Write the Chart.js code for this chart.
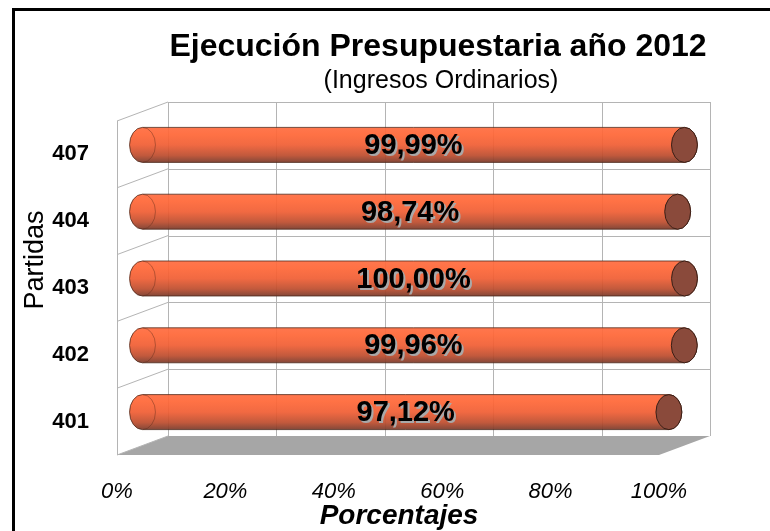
<!DOCTYPE html>
<html>
<head>
<meta charset="utf-8">
<title>Ejecución Presupuestaria año 2012</title>
<script src="https://cdn.jsdelivr.net/npm/chart.js@4.4.1/dist/chart.umd.min.js"></script>
<style>
    html, body { margin: 0; padding: 0; background: #fff; }
</style>
</head>
<body>
<canvas id="grafico" width="770" height="531"></canvas>
<script>
// Datos (de arriba hacia abajo)
const partidas = ['407', '404', '403', '402', '401'];
const porcentajes = [99.99, 98.74, 100.00, 99.96, 97.12];
const ticksX = [0, 20, 40, 60, 80, 100];

const FUENTE = '"Liberation Sans", Arial, sans-serif';
const DX = 51, DY = -19; // profundidad 3D: pared de fondo respecto al frente

function linea(c, x1, y1, x2, y2) {
    c.beginPath();
    c.moveTo(x1, y1);
    c.lineTo(x2, y2);
    c.stroke();
}

function formato(v) {
    return v.toFixed(2).replace('.', ',') + '%';
}

// Marco, paredes y piso en perspectiva
const marco3d = {
    id: 'marco3d',
    beforeDraw(chart) {
        const c = chart.ctx;
        c.save();
        c.fillStyle = '#fff';
        c.fillRect(0, 0, chart.width, chart.height);
        c.strokeStyle = '#000';
        c.lineWidth = 3;
        c.beginPath();
        c.moveTo(13.5, chart.height + 5);
        c.lineTo(13.5, 9.5);
        c.lineTo(chart.width + 5, 9.5);
        c.stroke();
        c.restore();
    },
    beforeDatasetsDraw(chart) {
        const c = chart.ctx;
        const sx = chart.scales.x, sy = chart.scales.y, a = chart.chartArea;
        c.save();
        // piso
        c.fillStyle = '#a6a6a6';
        c.beginPath();
        c.moveTo(a.left, a.bottom);
        c.lineTo(a.left + DX, a.bottom + DY);
        c.lineTo(a.right + DX, a.bottom + DY);
        c.lineTo(a.right, a.bottom);
        c.closePath();
        c.fill();

        c.strokeStyle = '#b4b4b4';
        c.lineWidth = 1;
        // lineas verticales en la pared de fondo
        sx.ticks.forEach(t => {
            const px = Math.round(sx.getPixelForValue(t.value) + DX) + 0.5;
            linea(c, px, a.top + DY, px, a.bottom + DY);
        });
        // divisiones entre partidas (fondo y pared lateral)
        for (let i = 0; i <= partidas.length; i++) {
            const py = sy.getPixelForValue(i - 0.5);
            const pyb = Math.round(py + DY) + 0.5;
            if (i < partidas.length) linea(c, a.left + DX, pyb, a.right + DX, pyb);
            linea(c, a.left, py, a.left + DX, py + DY);
        }
        const xl = Math.round(a.left) + 0.5;
        linea(c, xl, a.top, xl, a.bottom);
        c.restore();
    },
    afterDatasetsDraw(chart) {
        const c = chart.ctx;
        const meta = chart.getDatasetMeta(0);
        meta.data.forEach((bar, i) => {
            const ry = bar.height / 2, rx = ry * 0.74;
            const x0 = bar.base + DX / 2, x1 = bar.x + DX / 2, cy = bar.y + DY / 2;
            c.save();
            c.globalAlpha = 0.93;
            const g = c.createLinearGradient(0, cy - ry, 0, cy + ry);
            g.addColorStop(0, '#ff6c40');
            g.addColorStop(0.2, '#ff6737');
            g.addColorStop(0.5, '#f05e34');
            g.addColorStop(0.8, '#bd4d2e');
            g.addColorStop(1, '#7a3a2a');
            c.fillStyle = g;
            c.beginPath();
            c.moveTo(x1, cy - ry);
            c.lineTo(x0, cy - ry);
            c.ellipse(x0, cy, rx, ry, 0, -Math.PI / 2, Math.PI / 2, true);
            c.lineTo(x1, cy + ry);
            c.ellipse(x1, cy, rx, ry, 0, Math.PI / 2, -Math.PI / 2, true);
            c.closePath();
            c.fill();
            c.strokeStyle = 'rgba(70,35,22,0.8)';
            c.lineWidth = 1;
            c.stroke();
            // borde interior de la tapa izquierda
            c.strokeStyle = 'rgba(90,40,25,0.45)';
            c.beginPath();
            c.ellipse(x0, cy, rx, ry, 0, -Math.PI / 2, Math.PI / 2, false);
            c.stroke();
            // tapa derecha
            c.globalAlpha = 1;
            c.fillStyle = '#8a4a3b';
            c.strokeStyle = '#3a1f16';
            c.beginPath();
            c.ellipse(x1, cy, rx, ry, 0, 0, Math.PI * 2);
            c.fill();
            c.stroke();
            // etiqueta
            const txt = formato(porcentajes[i]);
            const cx = (x0 + x1) / 2;
            c.font = 'bold 29px ' + FUENTE;
            c.textAlign = 'center';
            c.textBaseline = 'middle';
            c.fillStyle = '#a9a9a9';
            c.fillText(txt, cx + 2, cy + 3);
            c.fillStyle = '#000';
            c.fillText(txt, cx, cy + 1);
            c.restore();
        });
    },
    afterDraw(chart) {
        const c = chart.ctx;
        c.save();
        c.fillStyle = '#000';
        c.textAlign = 'center';
        c.textBaseline = 'alphabetic';
        c.font = 'bold 32px ' + FUENTE;
        c.fillText('Ejecución Presupuestaria año 2012', 438, 56);
        c.font = '25px ' + FUENTE;
        c.fillText('(Ingresos Ordinarios)', 441, 88);
        c.font = 'italic bold 28px ' + FUENTE;
        c.fillText('Porcentajes', 399, 524);
        // titulo del eje vertical
        c.translate(36, 260);
        c.rotate(-Math.PI / 2);
        c.textBaseline = 'middle';
        c.font = '27px ' + FUENTE;
        c.fillText('Partidas', 0, 0);
        c.restore();
    }
};

const ctx = document.getElementById('grafico').getContext('2d');
new Chart(ctx, {
    type: 'bar',
    data: {
        labels: partidas,
        datasets: [{
            data: porcentajes,
            backgroundColor: 'rgba(0,0,0,0)',
            borderWidth: 0,
            barPercentage: 0.524,
            categoryPercentage: 1
        }]
    },
    options: {
        indexAxis: 'y',
        responsive: false,
        animation: false,
        devicePixelRatio: 1,
        layout: { padding: { top: 121, right: 111, left: 0, bottom: 0 } },
        plugins: {
            legend: { display: false },
            tooltip: { enabled: false },
            title: { display: false }
        },
        scales: {
            x: {
                min: 0,
                max: 100,
                afterBuildTicks: s => { s.ticks = ticksX.map(v => ({ value: v })); },
                afterFit: s => { s.height = 76; },
                grid: { display: false },
                border: { display: false },
                ticks: {
                    padding: 16,
                    color: '#000',
                    font: { family: FUENTE, size: 22, style: 'italic' },
                    callback: v => v + '%'
                }
            },
            y: {
                afterFit: s => { s.width = 117; },
                grid: { display: false },
                border: { display: false },
                ticks: {
                    padding: 20,
                    color: '#000',
                    font: { family: FUENTE, size: 22, weight: 'bold' }
                }
            }
        }
    },
    plugins: [marco3d]
});
</script>
</body>
</html>
